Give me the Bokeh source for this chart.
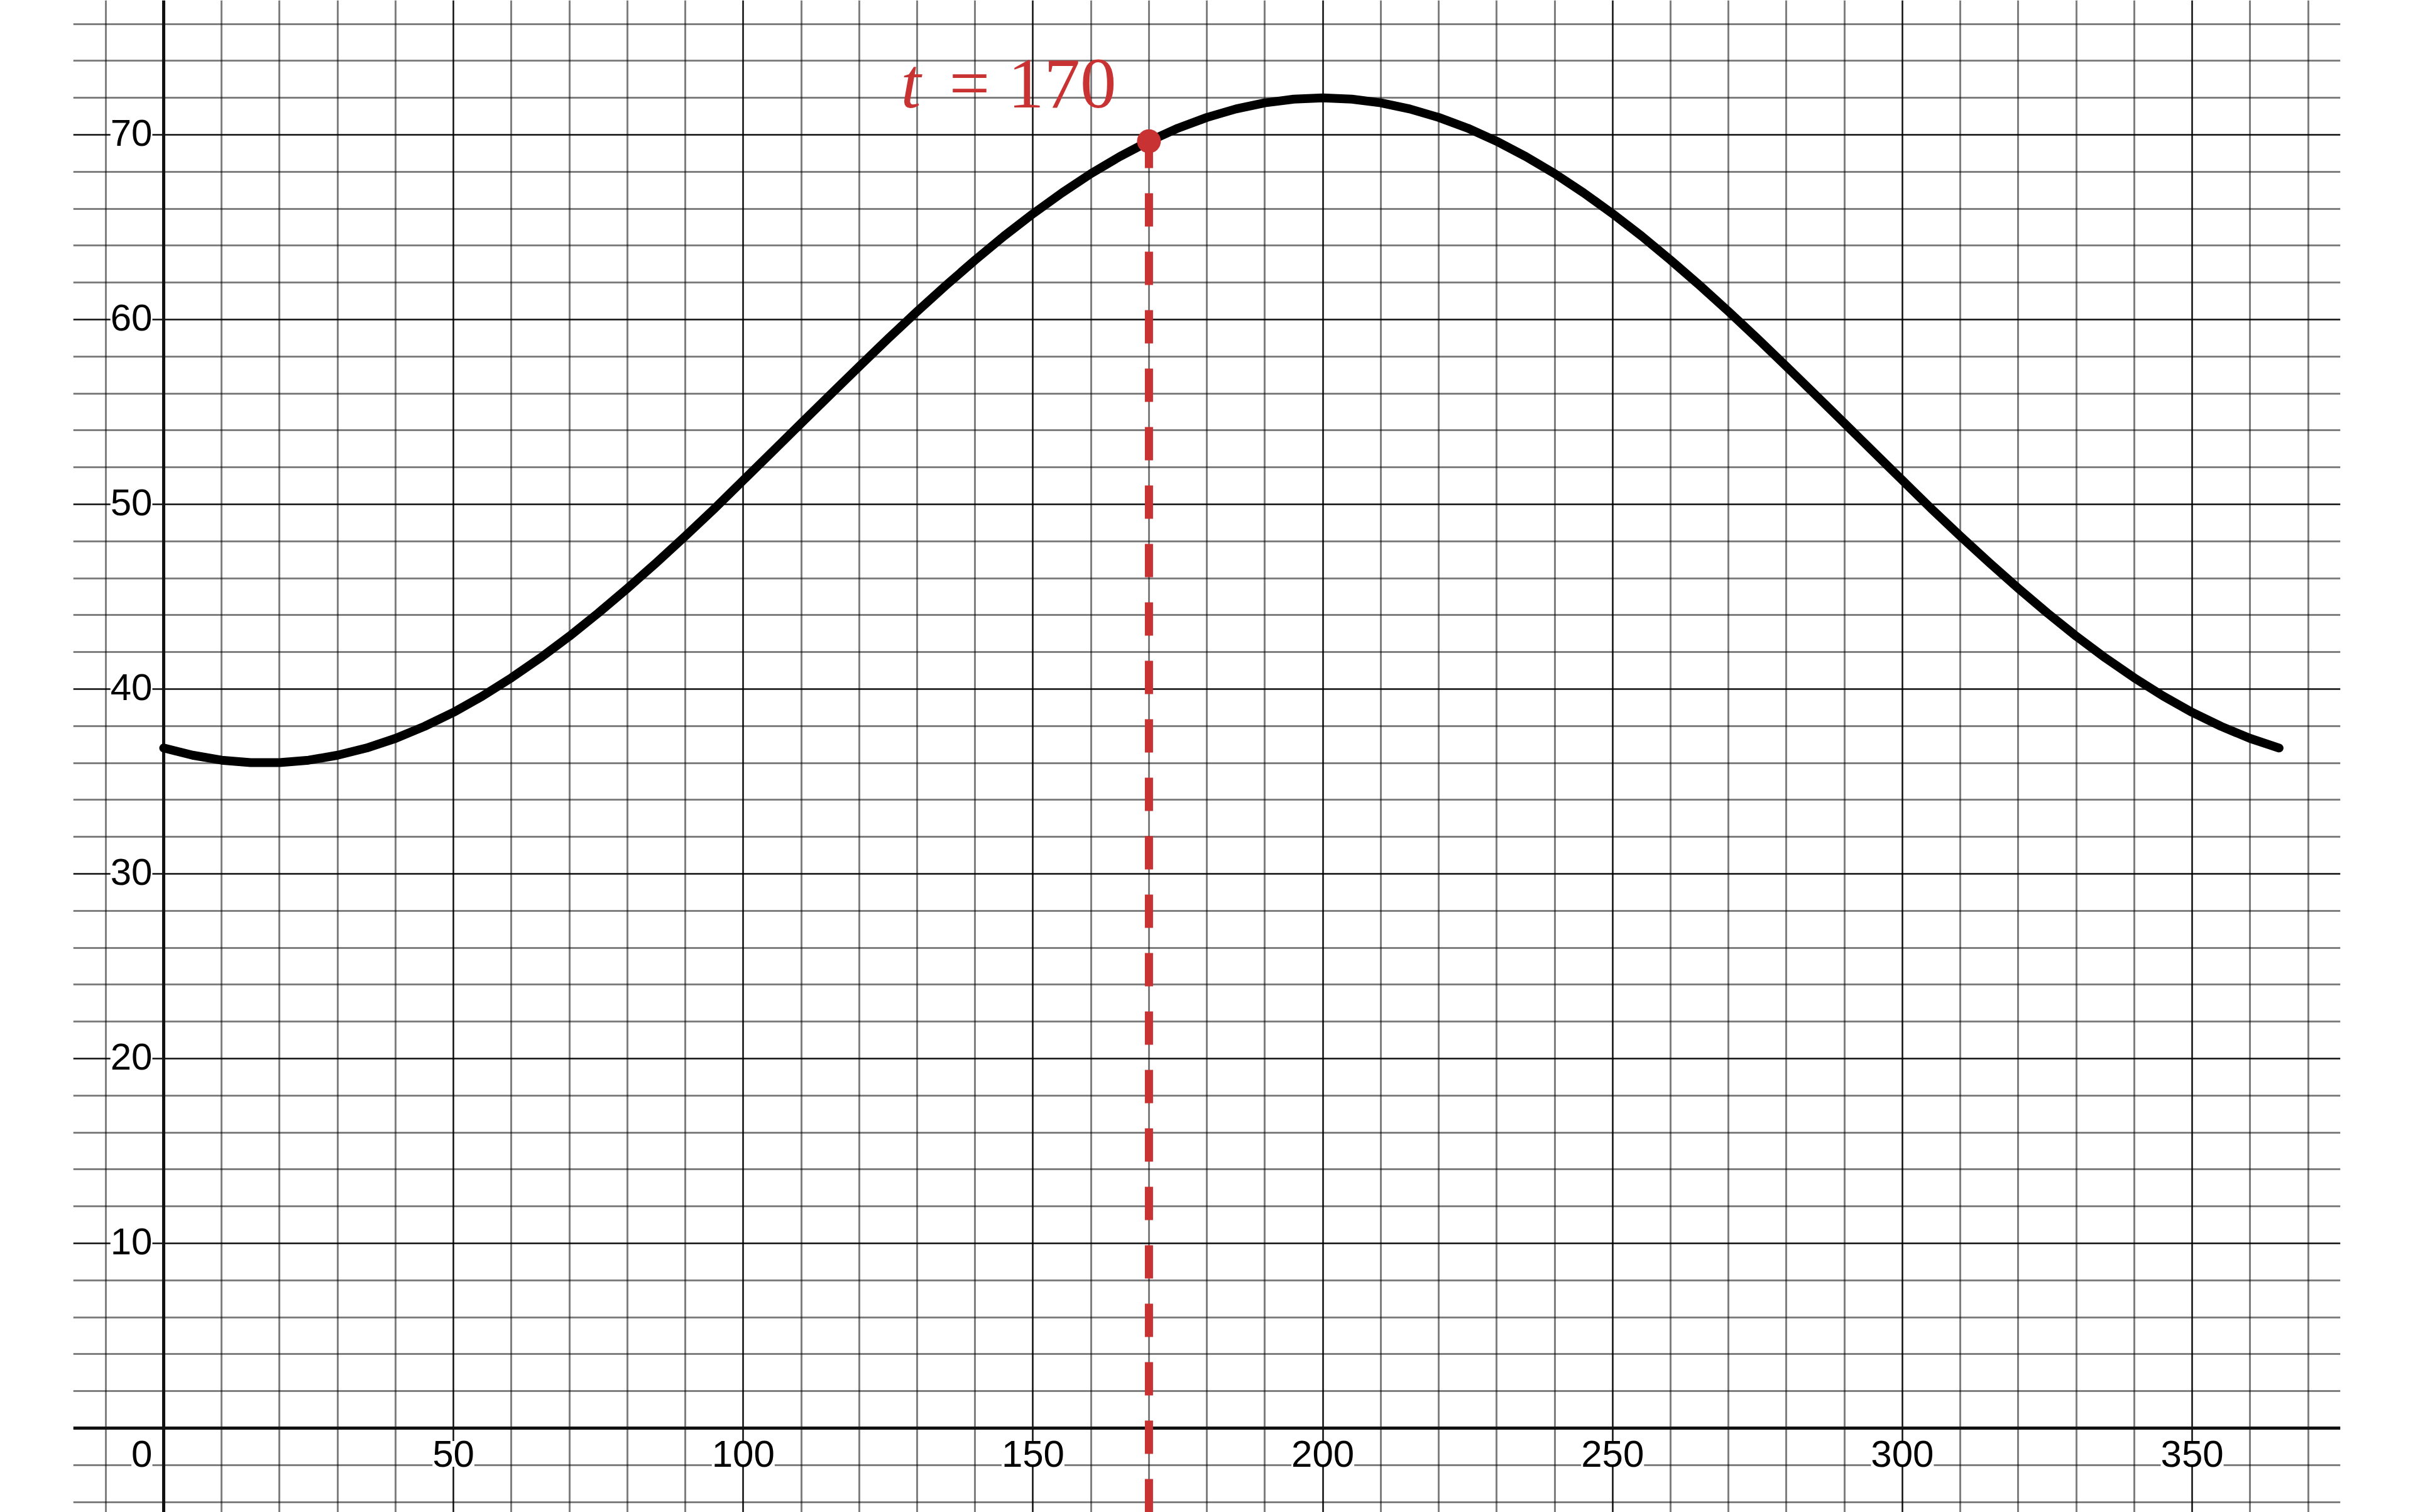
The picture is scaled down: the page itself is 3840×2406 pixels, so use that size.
from bokeh.plotting import figure
from bokeh.models import Range1d, Grid, FixedTicker, Span, LabelSet, Label, ColumnDataSource
from bokeh.core.properties import value
from bokeh.embed import file_html
from bokeh.resources import INLINE

# ---- data ----
t_days = [0, 5, 10, 15, 20, 25, 30, 35, 40, 45, 50, 55, 60, 65, 70, 75, 80, 85, 90, 95,
          100, 105, 110, 115, 120, 125, 130, 135, 140, 145, 150, 155, 160, 165, 170, 175,
          180, 185, 190, 195, 200, 205, 210, 215, 220, 225, 230, 235, 240, 245, 250, 255,
          260, 265, 270, 275, 280, 285, 290, 295, 300, 305, 310, 315, 320, 325, 330, 335,
          340, 345, 350, 355, 360, 365]
values = [36.81, 36.42, 36.15, 36.02, 36.02, 36.15, 36.42, 36.81, 37.33, 37.98, 38.74,
          39.62, 40.61, 41.69, 42.86, 44.12, 45.45, 46.84, 48.28, 49.76, 51.30, 52.84,
          54.39, 55.93, 57.46, 58.97, 60.44, 61.86, 63.22, 64.52, 65.73, 66.86, 67.90,
          68.83, 69.65, 70.36, 70.94, 71.40, 71.73, 71.93, 72.00, 71.93, 71.73, 71.40,
          70.94, 70.36, 69.65, 68.83, 67.90, 66.86, 65.73, 64.52, 63.22, 61.86, 60.44,
          58.97, 57.46, 55.93, 54.39, 52.84, 51.30, 49.76, 48.28, 46.84, 45.45, 44.12,
          42.86, 41.69, 40.61, 39.62, 38.74, 37.98, 37.33, 36.81]
mark_t = [170]
mark_v = [69.65]
x_tick_labels = [0, 50, 100, 150, 200, 250, 300, 350]
y_tick_labels = [10, 20, 30, 40, 50, 60, 70]
x_major = [50, 100, 150, 200, 250, 300, 350]
x_minor = [-10, 10, 20, 30, 40, 60, 70, 80, 90, 110, 120, 130, 140, 160, 170, 180, 190,
           210, 220, 230, 240, 260, 270, 280, 290, 310, 320, 330, 340, 360, 370]
y_major = [10, 20, 30, 40, 50, 60, 70]
y_minor = [-4, -2, 2, 4, 6, 8, 12, 14, 16, 18, 22, 24, 26, 28, 32, 34, 36, 38, 42, 44, 46,
           48, 52, 54, 56, 58, 62, 64, 66, 68, 72, 74, 76]

RED = "#c83232"
SANS = "Liberation Sans"
SERIF = "Liberation Serif"

y_lo, y_hi = -4.558, 77.28
p = figure(width=3840, height=2406, output_backend="svg", toolbar_location=None,
           x_axis_type=None, y_axis_type=None,
           x_range=Range1d(-15.61, 375.58), y_range=Range1d(y_lo, y_hi),
           min_border_left=116, min_border_right=116, min_border_top=0, min_border_bottom=0)
p.outline_line_color = None
p.background_fill_color = "white"

p.add_layout(Grid(dimension=0, ticker=FixedTicker(ticks=x_major, minor_ticks=x_minor),
                  grid_line_color="black", grid_line_width=2.5, grid_line_alpha=0.95,
                  minor_grid_line_color="black", minor_grid_line_alpha=0.5,
                  minor_grid_line_width=3))
p.add_layout(Grid(dimension=1, ticker=FixedTicker(ticks=y_major, minor_ticks=y_minor),
                  grid_line_color="black", grid_line_width=2.5, grid_line_alpha=0.95,
                  minor_grid_line_color="black", minor_grid_line_alpha=0.5,
                  minor_grid_line_width=3))

p.add_layout(Span(location=0, dimension="height", line_color="#111111", line_width=5, level="underlay"))
p.add_layout(Span(location=0, dimension="width", line_color="#111111", line_width=5, level="underlay"))

# curve
p.line(t_days, values, line_width=14, line_color="black", line_cap="round", line_join="round")

# dashed marker line, drawn from the bottom edge up to the point
p.segment(x0=mark_t, y0=[y_lo], x1=mark_t, y1=mark_v, line_color=RED, line_width=13,
          line_dash="53 40", line_cap="butt")
p.scatter(mark_t, mark_v, size=38, fill_color=RED, line_color=None)

# tick labels
lab_style = dict(text_font=value(SANS), text_font_size="60px", text_color="black",
                 background_fill_color="white", text_baseline="middle")
ysrc = ColumnDataSource(dict(x=[0] * len(y_tick_labels), y=y_tick_labels,
                             text=[str(v) for v in y_tick_labels]))
p.add_layout(LabelSet(x="x", y="y", text="text", source=ysrc, x_offset=-18, y_offset=3,
                      text_align="right", **lab_style))
xsrc = ColumnDataSource(dict(x=x_tick_labels[1:], y=[0] * (len(x_tick_labels) - 1),
                             text=[str(v) for v in x_tick_labels[1:]]))
p.add_layout(LabelSet(x="x", y="y", text="text", source=xsrc, y_offset=-41,
                      text_align="center", **lab_style))
zsrc = ColumnDataSource(dict(x=[0], y=[0], text=[str(x_tick_labels[0])]))
p.add_layout(LabelSet(x="x", y="y", text="text", source=zsrc, x_offset=-18, y_offset=-41,
                      text_align="right", **lab_style))

# annotation "t = 170"
p.add_layout(Label(x=mark_t[0], y=mark_v[0], x_offset=-217, y_offset=94,
                   text="t = %d" % mark_t[0], text_alpha=0.0,
                   text_font=SERIF, text_font_size="115px",
                   text_align="center", text_baseline="middle",
                   background_fill_color="white",
                   padding=dict(left=30, right=30, top=3, bottom=3)))
p.add_layout(Label(x=mark_t[0], y=mark_v[0], x_offset=-395, y_offset=92, text="t",
                   text_font=SERIF, text_font_style="italic",
                   text_font_size="115px", text_color=RED,
                   text_align="left", text_baseline="middle"))
p.add_layout(Label(x=mark_t[0], y=mark_v[0], x_offset=-318, y_offset=92,
                   text="= %d" % mark_t[0],
                   text_font=SERIF, text_font_size="115px", text_color=RED,
                   text_align="left", text_baseline="middle"))

open("out.html", "w").write(file_html(p, INLINE))
